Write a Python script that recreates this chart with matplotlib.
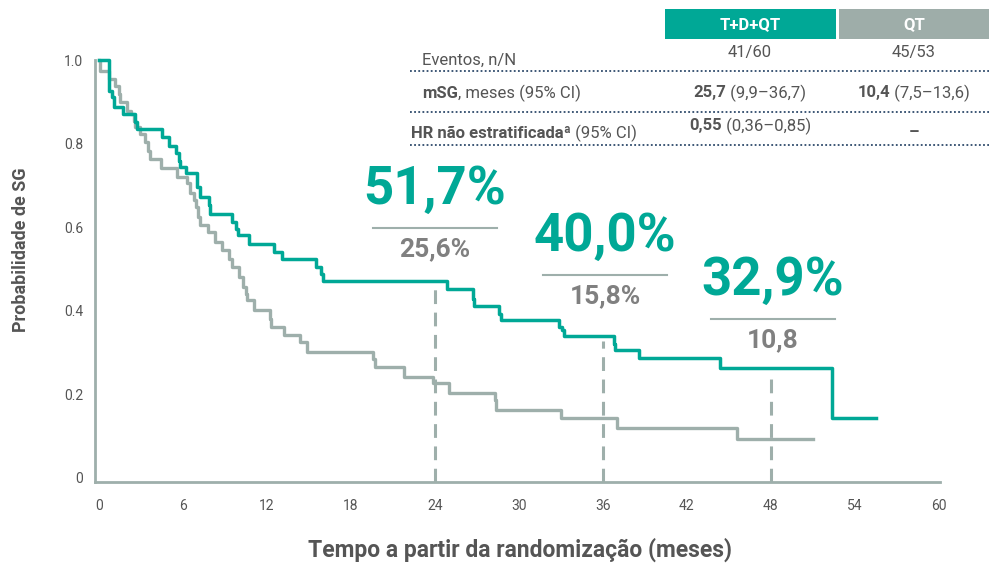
import numpy as np
import matplotlib
matplotlib.use("Agg")
import matplotlib.pyplot as plt
from matplotlib.lines import Line2D
from matplotlib.patches import Rectangle

plt.rcParams['font.family'] = ['Roboto', 'DejaVu Sans']

# dados (tempo em meses, probabilidade após cada passo)
tdqt_t = [0, 0.75, 0.95, 1.05, 1.75, 2.6, 2.7, 4.5, 5.0, 5.5, 5.7, 5.8, 6.2, 7.0, 7.2,
          7.85, 7.95, 9.5, 9.8, 9.9, 10.7, 12.5, 13.1, 15.5, 15.9, 16.0, 24.9, 26.7,
          26.8, 28.6, 28.7, 32.9, 33.1, 33.2, 36.8, 36.9, 38.6, 44.4, 52.4, 55.5]
tdqt_s = [1.0, 0.928, 0.912, 0.888, 0.872, 0.853, 0.836, 0.816, 0.796, 0.777, 0.760,
          0.744, 0.729, 0.697, 0.673, 0.653, 0.633, 0.613, 0.597, 0.581, 0.561, 0.541,
          0.525, 0.505, 0.489, 0.471, 0.451, 0.429, 0.411, 0.393, 0.377, 0.361, 0.353,
          0.339, 0.321, 0.305, 0.286, 0.262, 0.142, 0.142]

qt_t = [0, 0.05, 0.75, 1.15, 1.4, 1.5, 2.0, 2.3, 2.5, 2.6, 2.9, 3.3, 3.5, 3.65, 4.4,
        5.6, 6.3, 6.5, 6.8, 6.9, 7.1, 7.2, 7.8, 8.3, 8.8, 9.3, 9.5, 10.0, 10.3, 10.5,
        10.6, 11.1, 12.2, 12.3, 13.2, 14.4, 14.9, 19.6, 19.7, 21.8, 23.9, 25.0, 28.3,
        28.4, 33.0, 37.0, 45.6, 51.0]
qt_s = [1.0, 0.976, 0.956, 0.940, 0.920, 0.900, 0.880, 0.872, 0.856, 0.840, 0.824,
        0.804, 0.784, 0.764, 0.741, 0.720, 0.705, 0.681, 0.665, 0.649, 0.625, 0.605,
        0.589, 0.565, 0.545, 0.525, 0.505, 0.481, 0.457, 0.441, 0.425, 0.401, 0.381,
        0.361, 0.341, 0.325, 0.301, 0.285, 0.265, 0.241, 0.226, 0.203, 0.186, 0.162,
        0.142, 0.119, 0.091, 0.091]

marcos = [24, 36, 48]
marcos_tdqt = ['51,7%', '40,0%', '32,9%']
marcos_qt = ['25,6%', '15,8%', '10,8']

xticks = [0, 6, 12, 18, 24, 30, 36, 42, 48, 54, 60]
yticks = [0, 0.2, 0.4, 0.6, 0.8, 1.0]
ytick_labels = ['0', '0.2', '0.4', '0.6', '0.8', '1.0']

TEAL = '#00A896'
GREY = '#9EAFAB'
TXT = '#555555'
W, H = 989, 564


def px(x, y):
    return x / W, 1 - y / H


fig = plt.figure(figsize=(W / 100, H / 100), dpi=100)
ax = fig.add_axes([94.5 / W, 1 - 482 / H, (940 - 94.5) / W, (482 - 60.5) / H])
ax.set_xlim(-0.32, 60.1)
ax.set_ylim(-0.011, 1.0)

# linhas tracejadas até a curva T+D+QT
for m in marcos:
    i = np.searchsorted(tdqt_t, m, side='right') - 1
    ax.plot([m, m], [-0.011, tdqt_s[i] - 0.012], color=GREY, lw=2.2,
            dashes=(4.5, 2.8), zorder=1, solid_capstyle='butt')

ax.step(qt_t, qt_s, where='post', color=GREY, lw=2.4, zorder=2, clip_on=False)
ax.step(tdqt_t, tdqt_s, where='post', color=TEAL, lw=2.5, zorder=3, clip_on=False)

for s in ['top', 'right']:
    ax.spines[s].set_visible(False)
for s in ['left', 'bottom']:
    ax.spines[s].set_color(GREY)
    ax.spines[s].set_linewidth(2.0)

ax.set_xticks(xticks)
ax.set_yticks(yticks)
ax.set_yticklabels(ytick_labels)
ax.tick_params(length=0, labelsize=10, labelcolor=TXT)
ax.tick_params(axis='x', pad=12)
ax.tick_params(axis='y', pad=8)

fig.text(*px(21, 250), 'Probabilidade de SG', rotation=90, ha='center', va='center',
         fontsize=13, fontweight='bold', color=TXT)
fig.text(*px(520, 550), 'Tempo a partir da randomização (meses)', ha='center',
         va='center', fontsize=16.5, fontweight='bold', color=TXT)

# percentuais nos marcos
big_pos = [(435, 189), (605, 236), (773, 280)]
for (cx, cy), a, b in zip(big_pos, marcos_tdqt, marcos_qt):
    fig.text(*px(cx, cy), a, ha='center', va='center', fontsize=38,
             fontweight='bold', color=TEAL)
    x0, y0 = px(cx - 62, cy + 39)
    x1, _ = px(cx + 62, cy + 39)
    fig.add_artist(Line2D([x0, x1], [y0, y0], transform=fig.transFigure,
                          color=GREY, lw=1.5))
    fig.text(*px(cx, cy + 60), b, ha='center', va='center', fontsize=19,
             fontweight='bold', color='#808080')

# tabela no canto superior direito
renderer = fig.canvas.get_renderer()


def rich(x, y, parts, size, center=False):
    items = []
    total = 0
    for s, w in parts:
        t = fig.text(0, 0, s, fontsize=size, fontweight=w, color=TXT, va='center')
        wd = t.get_window_extent(renderer).width
        items.append((t, wd))
        total += wd
    start = x - total / 2 if center else x
    for t, wd in items:
        t.set_position(px(start, y))
        start += wd


fig.add_artist(Rectangle(px(665, 39), 171 / W, 30 / H, transform=fig.transFigure,
                         color=TEAL, lw=0))
fig.add_artist(Rectangle(px(839, 39), 150 / W, 30 / H, transform=fig.transFigure,
                         color='#9EADA9', lw=0))
fig.text(*px(750, 25), 'T+D+QT', ha='center', va='center', fontsize=12,
         fontweight='bold', color='white')
fig.text(*px(914, 25), 'QT', ha='center', va='center', fontsize=12,
         fontweight='bold', color='white')

rich(422, 60, [('Eventos, n/N', 'normal')], 12)
rich(750, 52, [('41/60', 'normal')], 12, center=True)
rich(914, 52, [('45/53', 'normal')], 12, center=True)
rich(422, 93, [('mSG', 'bold'), (', meses (95% CI)', 'normal')], 12)
rich(750, 93, [('25,7', 'bold'), (' (9,9–36,7)', 'normal')], 12, center=True)
rich(914, 93, [('10,4', 'bold'), (' (7,5–13,6)', 'normal')], 12, center=True)
rich(411, 133, [('HR não estratificadaª', 'bold'), (' (95% CI)', 'normal')], 12)
rich(750, 126, [('0,55', 'bold'), (' (0,36–0,85)', 'normal')], 12, center=True)
rich(914, 133, [('–', 'bold')], 12, center=True)

for yy in [71, 111.5, 145]:
    x0, y0 = px(410, yy)
    x1, _ = px(989, yy)
    fig.add_artist(Line2D([x0, x1], [y0, y0], transform=fig.transFigure,
                          color='#2E4A6B', lw=1.3, ls=(0, (1, 1.3))))

fig.savefig('out.png', dpi=100)
